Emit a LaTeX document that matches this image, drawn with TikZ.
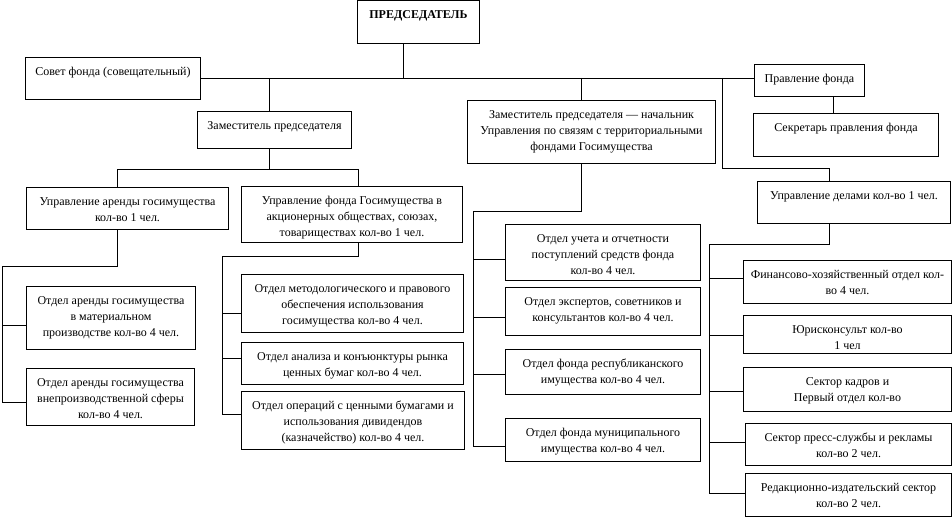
\documentclass[tikz,border=0pt]{standalone}
\usepackage{fontspec}
\setmainfont{Liberation Serif}
\tikzset{
  unit/.style={draw,line width=1pt,inner sep=0pt,anchor=north west,font=\fontsize{12}{16}\selectfont},
  link/.style={line width=1pt},
}
\newcommand{\unitbox}[6]{\node[unit] (#1) at (#2,#3) {\parbox[c][#5pt][t]{#4pt}{\centering\vspace*{6.8pt}\strut #6}};}
\begin{document}
\begin{tikzpicture}[x=1pt,y=-1pt]
\useasboundingbox (0,0) rectangle (952,518);
\unitbox{chair}{357}{0}{122}{43}{\textbf{ПРЕДСЕДАТЕЛЬ}}
\unitbox{sovet}{25}{57}{175}{42}{Совет фонда (совещательный)}
\unitbox{zam}{197}{111}{154}{37}{Заместитель председателя}
\unitbox{zamnach}{467}{100}{248}{63}{Заместитель председателя — начальник\\Управления по связям с территориальными\\фондами Госимущества}
\unitbox{pravl}{754}{64}{110}{32}{Правление фонда}
\unitbox{sekr}{753}{113}{185}{43}{Секретарь правления фонда}
\unitbox{uar}{26}{187}{202}{42}{Управление аренды госимущества\\кол-во 1 чел.}
\unitbox{ufg}{241}{186}{221}{56}{Управление фонда Госимущества в\\акционерных обществах, союзах,\\товариществах кол-во 1 чел.}
\unitbox{udel}{757}{181}{193}{42}{Управление делами кол-во 1 чел.}
\unitbox{oarm}{26}{286}{169}{63}{Отдел аренды госимущества\\в материальном\\производстве кол-во 4 чел.}
\unitbox{oarv}{26}{368}{168}{57}{Отдел аренды госимущества\\внепроизводственной сферы\\кол-во 4 чел.}
\unitbox{omet}{241}{274}{222}{58}{Отдел методологического и правового\\обеспечения использования\\госимущества кол-во 4 чел.}
\unitbox{oan}{241}{342}{222}{42}{Отдел анализа и конъюнктуры рынка\\ценных бумаг кол-во 4 чел.}
\unitbox{oop}{241}{391}{223}{58}{Отдел операций с ценными бумагами и\\использования дивидендов\\(казначейство) кол-во 4 чел.}
\unitbox{ouch}{505}{224}{195}{56}{Отдел учета и отчетности\\поступлений средств фонда\\кол-во 4 чел.}
\unitbox{oexp}{505}{287}{195}{48}{Отдел экспертов, советников и\\консультантов кол-во 4 чел.}
\unitbox{orep}{505}{349}{195}{45}{Отдел фонда республиканского\\имущества кол-во 4 чел.}
\unitbox{omun}{505}{418}{195}{43}{Отдел фонда муниципального\\имущества кол-во 4 чел.}
\unitbox{ofin}{743}{260}{208}{43}{Финансово-хозяйственный отдел кол-\\во 4 чел.}
\unitbox{oyur}{743}{315}{208}{38}{Юрисконсульт кол-во\\1 чел}
\unitbox{okadr}{743}{367}{208}{44}{Сектор кадров и\\Первый отдел кол-во}
\unitbox{opress}{745}{423}{206}{42}{Сектор пресс-службы и рекламы\\кол-во 2 чел.}
\unitbox{ored}{745}{473}{206}{43}{Редакционно-издательский сектор\\кол-во 2 чел.}
% bus points
\coordinate (T1) at (403,78);
\coordinate (T2) at (269,78);
\coordinate (T3) at (581,78);
\coordinate (U1) at (722,78);
\coordinate (U2) at (829,169);
\coordinate (P1) at (833,0);
\coordinate (L1) at (117,170);
\coordinate (R1) at (358,170);
\coordinate (A1) at (117,267);
\coordinate (A2) at (2,267);
\coordinate (B1) at (358,257);
\coordinate (B2) at (222,257);
\coordinate (C1) at (581,212);
\coordinate (C2) at (473,212);
\coordinate (D1) at (829,245);
\coordinate (D2) at (709,245);
\draw [link] (sovet.east) -- (sovet.east -| pravl.west);
\draw [link] (T1 |- chair.south) -- (T1);
\draw [link] (T2) -- (T2 |- zam.north);
\draw [link] (T3) -- (T3 |- zamnach.north);
\draw [link] (U1) -- (U1 |- U2) -- (U2) -- (U2 |- udel.north);
\draw [link] (P1 |- pravl.south) -- (P1 |- sekr.north);
\draw [link] (T2 |- zam.south) -- (T2 |- L1);
\draw [link] (L1 |- uar.north) -- (L1) -- (R1) -- (R1 |- ufg.north);
% left branch
\draw [link] (A1 |- uar.south) -- (A1) -- (A2) -- (2,402);
\foreach \y/\n in {325/oarm,402/oarv}
	\draw [link] (2,\y) -- (\n.west |- 0,\y);
% shares branch
\draw [link] (B1 |- ufg.south) -- (B1) -- (B2) -- (222,414);
\foreach \y/\n in {313/omet,358/oan,414/oop}
	\draw [link] (222,\y) -- (\n.west |- 0,\y);
% territorial branch
\draw [link] (C1 |- zamnach.south) -- (C1) -- (C2) -- (473,446);
\foreach \y/\n in {260/ouch,317/oexp,374/orep,446/omun}
	\draw [link] (473,\y) -- (\n.west |- 0,\y);
% affairs branch
\draw [link] (D1 |- udel.south) -- (D1) -- (D2) -- (709,493);
\foreach \y/\n in {279/ofin,335/oyur,391/okadr,442/opress,493/ored}
	\draw [link] (709,\y) -- (\n.west |- 0,\y);
\end{tikzpicture}
\end{document}
